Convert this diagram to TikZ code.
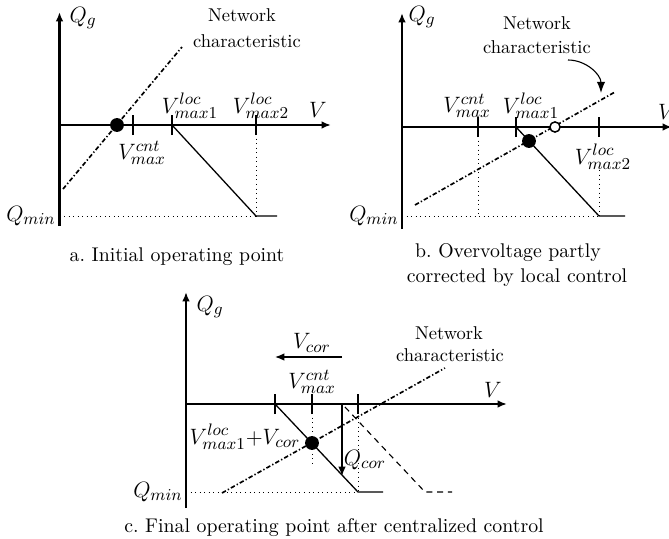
\documentclass[tikz,border=0pt]{standalone}
\usetikzlibrary{arrows.meta}
\begin{document}
\begin{tikzpicture}[x=0.54pt,y=-0.54pt,
  axis/.style={line width=1.1pt,-{Latex[length=5pt,width=4pt]}},
  tick/.style={line width=0.9pt},
  droop/.style={line width=0.7pt},
  guide/.style={line width=0.45pt,dotted},
  netchar/.style={line width=0.9pt,dash pattern=on 2.4pt off 1.2pt on 0.7pt off 1.2pt},
  shifted/.style={line width=0.6pt,dash pattern=on 3.2pt off 2.6pt},
  lbl/.style={font=\fontsize{12.5}{15}\selectfont,inner sep=0.5pt},
  txt/.style={font=\fontsize{10}{12}\selectfont,inner sep=0.5pt},
  captxt/.style={font=\fontsize{10.7}{13}\selectfont,inner sep=0.5pt},
  opdot/.style={circle,fill=black,inner sep=0pt,minimum size=7.5pt},
  opring/.style={circle,draw=black,line width=0.8pt,fill=white,inner sep=0pt,minimum size=5.5pt},
  corarrow/.style={line width=0.7pt,-{Latex[length=5pt,width=4pt]}},
  note/.style={line width=0.6pt,-{Latex[length=6pt,width=4.5pt]}}]
\useasboundingbox (0,0) rectangle (669,539);

% ---------------- panel a: initial operating point ----------------
\coordinate (aO) at (59.5,125);
\coordinate (aTop) at (59.5,12);
\coordinate (aBot) at (59.5,226);
\coordinate (aRight) at (331,125);
\coordinate (aQmin) at (59.5,216);
\coordinate (aT0) at (133,125);
\coordinate (aT1) at (172,125);
\coordinate (aT2) at (256,125);
\coordinate (aKnee) at (256,216);
\coordinate (aEnd) at (277,216);
\coordinate (aN1) at (63,189);
\coordinate (aN2) at (182,47);

\draw[axis] (aBot) -- (aTop);
\draw[axis] (aO) -- (aRight);
\foreach \t in {aT0,aT1,aT2} \draw[tick] ([yshift=-5.5]\t) -- ([yshift=5.5]\t);
\draw[guide] (aT2) -- (aKnee);
\draw[guide] (aQmin) -- (aKnee);
\draw[droop] (aT1) -- (aKnee) -- (aEnd);
\draw[netchar] (aN1) -- (aN2);
\node[opdot] (aOp) at (117,125) {};

\node[lbl] (aQg) at (83,18) {$Q_g$};
\node[lbl] (aV) at (318,110) {$V$};
\node[lbl,anchor=east] (aQminL) at (57,216) {$Q_{min}$};
\node[lbl] (aVcnt) at (142,153) {$V^{cnt}_{max}$};
\node[lbl] (aVl1) at (190,106) {$V^{loc}_{max1}$};
\node[lbl] (aVl2) at (261,106) {$V^{loc}_{max2}$};
\node[txt] (aNet1) at (242,15) {Network};
\node[txt] (aNet2) at (247,41) {characteristic};
\node[captxt] (aCap) at (177,257) {a.\ Initial operating point};

% ---------------- panel b: partly corrected by local control ----------------
\coordinate (bO) at (402,127);
\coordinate (bTop) at (402,13);
\coordinate (bBot) at (402,229);
\coordinate (bRight) at (672,127);
\coordinate (bQmin) at (402,216);
\coordinate (bT0) at (478,127);
\coordinate (bT1) at (516,127);
\coordinate (bT2) at (599,127);
\coordinate (bT0q) at (478,216);
\coordinate (bT2d) at (599,170);
\coordinate (bKnee) at (599,216);
\coordinate (bEnd) at (625,216);
\coordinate (bN1) at (415,205);
\coordinate (bN2) at (615,92);
\coordinate (bArrS) at (568,60);
\coordinate (bArrE) at (601,93);

\draw[axis] (bBot) -- (bTop);
\draw[axis] (bO) -- (bRight);
\foreach \t in {bT0,bT1,bT2} \draw[tick] ([yshift=-5.5]\t) -- ([yshift=5.5]\t);
\draw[guide] (bT0) -- (bT0q);
\draw[guide] (bT2d) -- (bKnee);
\draw[guide] (bQmin) -- (bKnee);
\draw[droop] (bT1) -- (bKnee) -- (bEnd);
\draw[netchar] (bN1) -- (bN2);
\node[opring] (bOld) at (555,127) {};
\node[opdot] (bOp) at (529,141) {};
\draw[note] (bArrS) to[out=0,in=90] (bArrE);

\node[lbl] (bQg) at (422,17) {$Q_g$};
\node[lbl] (bV) at (667,112) {$V$};
\node[lbl,anchor=east] (bQminL) at (400,216) {$Q_{min}$};
\node[lbl] (bVcnt) at (467,106) {$V^{cnt}_{max}$};
\node[lbl] (bVl1) at (531,106) {$V^{loc}_{max1}$};
\node[lbl] (bVl2) at (603,157) {$V^{loc}_{max2}$};
\node[txt] (bNet1) at (537,23) {Network};
\node[txt] (bNet2) at (537,47) {characteristic};
\node[captxt] (bCap1) at (508,253) {b.\ Overvoltage partly};
\node[captxt] (bCap2) at (517,278) {corrected by local control};

% ---------------- panel c: after centralized control ----------------
\coordinate (cO) at (186,404);
\coordinate (cTop) at (186,292);
\coordinate (cBot) at (186,508);
\coordinate (cRight) at (507,404);
\coordinate (cQmin) at (186,492);
\coordinate (cT0) at (275,404);
\coordinate (cT1) at (312,404);
\coordinate (cT2) at (358,404);
\coordinate (cT1d) at (312,467);
\coordinate (cKnee) at (358,492);
\coordinate (cEnd) at (383,492);
\coordinate (cOldT) at (342,404);
\coordinate (cOldQ) at (342,476);
\coordinate (cOldKnee) at (425,492);
\coordinate (cOldEnd) at (452,492);
\coordinate (cN1) at (222,493);
\coordinate (cN2) at (445,368);
\coordinate (cVcorS) at (342,357);
\coordinate (cVcorE) at (275,357);

\draw[axis] (cBot) -- (cTop);
\draw[axis] (cO) -- (cRight);
\foreach \t in {cT0,cT1,cT2} \draw[tick] ([yshift=-5.5]\t) -- ([yshift=5.5]\t);
\draw[guide] (cT1) -- (cT1d);
\draw[guide] (cT2) -- (cKnee);
\draw[guide] (cQmin) -- (cKnee);
\draw[shifted] ([shift={(3,3)}]cOldT) -- (cOldKnee) -- (cOldEnd);
\draw[droop] (cT0) -- (cKnee) -- (cEnd);
\draw[netchar] (cN1) -- (cN2);
\draw[corarrow] (cOldT) -- (cOldQ);
\draw[corarrow] (cVcorS) -- (cVcorE);
\node[opdot] (cOp) at (312,443) {};

\node[lbl] (cQg) at (210,307) {$Q_g$};
\node[lbl] (cV) at (493,390) {$V$};
\node[lbl,anchor=east] (cQminL) at (184,492) {$Q_{min}$};
\node[lbl] (cVcor) at (312,343) {$V_{cor}$};
\node[lbl] (cVcnt) at (312,382) {$V^{cnt}_{max}$};
\node[lbl] (cVl1) at (245,437) {$V^{loc}_{max1}{+}V_{cor}$};
\node[lbl] (cQcor) at (365,460) {$Q_{cor}$};
\node[txt] (cNet1) at (449,333) {Network};
\node[txt] (cNet2) at (450,355) {characteristic};
\node[captxt] (cCap) at (334,528) {c.\ Final operating point after centralized control};
\end{tikzpicture}
\end{document}
